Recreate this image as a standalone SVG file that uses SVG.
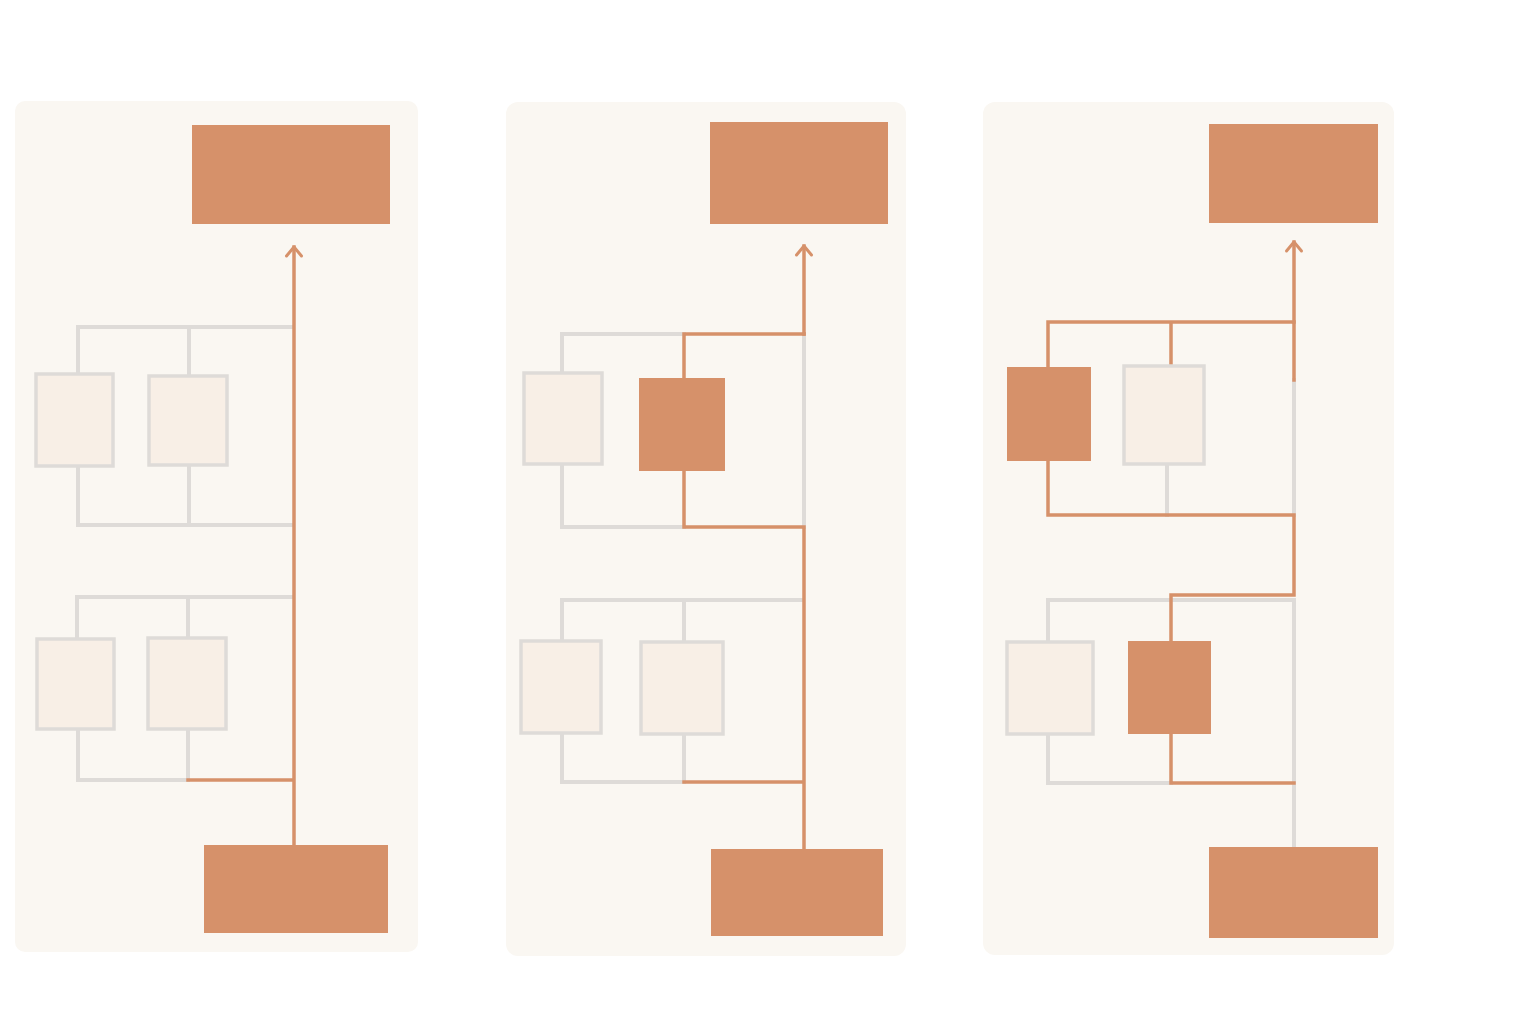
<svg xmlns="http://www.w3.org/2000/svg" width="1536" height="1024" viewBox="0 0 1536 1024">
<defs>
<marker id="chev" viewBox="0 0 20 20" refX="12" refY="10" markerWidth="20" markerHeight="20" markerUnits="userSpaceOnUse" orient="auto">
<path d="M3 2.5 L12 10 L3 17.5" fill="none" stroke="#D6916A" stroke-width="3" stroke-linecap="round" stroke-linejoin="round"/>
</marker>
</defs>
<style>
.panel{fill:#FAF7F2}
.hot{fill:#D6916A}
.cold{fill:#F8EFE6;stroke:#DEDBD8;stroke-width:3.5}
.g{fill:none;stroke:#DEDBD8;stroke-width:4;stroke-linecap:square}
.o{fill:none;stroke:#D6916A;stroke-width:3.5;stroke-linecap:square}
</style>
<rect width="1536" height="1024" fill="#FFFFFF"/>

<g id="panel1">
<rect class="panel" x="15" y="101" width="403" height="851" rx="10"/>
<g id="p1-connectors">
<path class="g" d="M78 373 V327 H292 M189 327 V373 M78 466 V525 H292 M189 465 V525"/>
<path class="g" d="M77 638 V597 H291 M188 597 V637 M78 729 V780 H188 M188 729 V780"/>
<path class="o" d="M188 780 H292"/>
<path class="o" d="M294 845 V247" marker-end="url(#chev)"/>
</g>
<rect id="p1-top" class="hot" x="192" y="125" width="198" height="99"/>
<rect id="p1-a1" class="cold" x="36" y="374" width="77" height="92"/>
<rect id="p1-a2" class="cold" x="149" y="376" width="78" height="89"/>
<rect id="p1-b1" class="cold" x="37" y="639" width="77" height="90"/>
<rect id="p1-b2" class="cold" x="148" y="638" width="78" height="91"/>
<rect id="p1-bottom" class="hot" x="204" y="845" width="184" height="88"/>
</g>

<g id="panel2">
<rect class="panel" x="506" y="102" width="400" height="854" rx="12"/>
<g id="p2-connectors">
<path class="g" d="M562 372 V334 H684 M562 465 V527 H684 M804 334 V527"/>
<path class="g" d="M562 640 V600 H802 M684 600 V641 M562 734 V782 H684 M684 735 V782"/>
<path class="o" d="M684 782 H802"/>
<path class="o" d="M684 378 V334 H804 M684 471 V527 H804 V849"/>
<path class="o" d="M804 334 V246" marker-end="url(#chev)"/>
</g>
<rect id="p2-top" class="hot" x="710" y="122" width="178" height="102"/>
<rect id="p2-a1" class="cold" x="524" y="373" width="78" height="91"/>
<rect id="p2-a2" class="hot" x="639" y="378" width="86" height="93"/>
<rect id="p2-b1" class="cold" x="521" y="641" width="80" height="92"/>
<rect id="p2-b2" class="cold" x="641" y="642" width="82" height="92"/>
<rect id="p2-bottom" class="hot" x="711" y="849" width="172" height="87"/>
</g>

<g id="panel3">
<rect class="panel" x="983" y="102" width="411" height="853" rx="12"/>
<g id="p3-connectors">
<path class="g" d="M1167 464 V515 M1294 380 V515"/>
<path class="g" d="M1048 641 V600 H1294 M1048 735 V783 H1171 M1294 600 V847"/>
<path class="o" d="M1048 367 V322 H1294 V380 M1171 322 V365"/>
<path class="o" d="M1048 461 V515 H1294 V595 H1171 V641 M1171 734 V783 H1294"/>
<path class="o" d="M1294 322 V242" marker-end="url(#chev)"/>
</g>
<rect id="p3-top" class="hot" x="1209" y="124" width="169" height="99"/>
<rect id="p3-a1" class="hot" x="1007" y="367" width="84" height="94"/>
<rect id="p3-a2" class="cold" x="1124" y="366" width="80" height="98"/>
<rect id="p3-b1" class="cold" x="1007" y="642" width="86" height="92"/>
<rect id="p3-b2" class="hot" x="1128" y="641" width="83" height="93"/>
<rect id="p3-bottom" class="hot" x="1209" y="847" width="169" height="91"/>
</g>
</svg>
